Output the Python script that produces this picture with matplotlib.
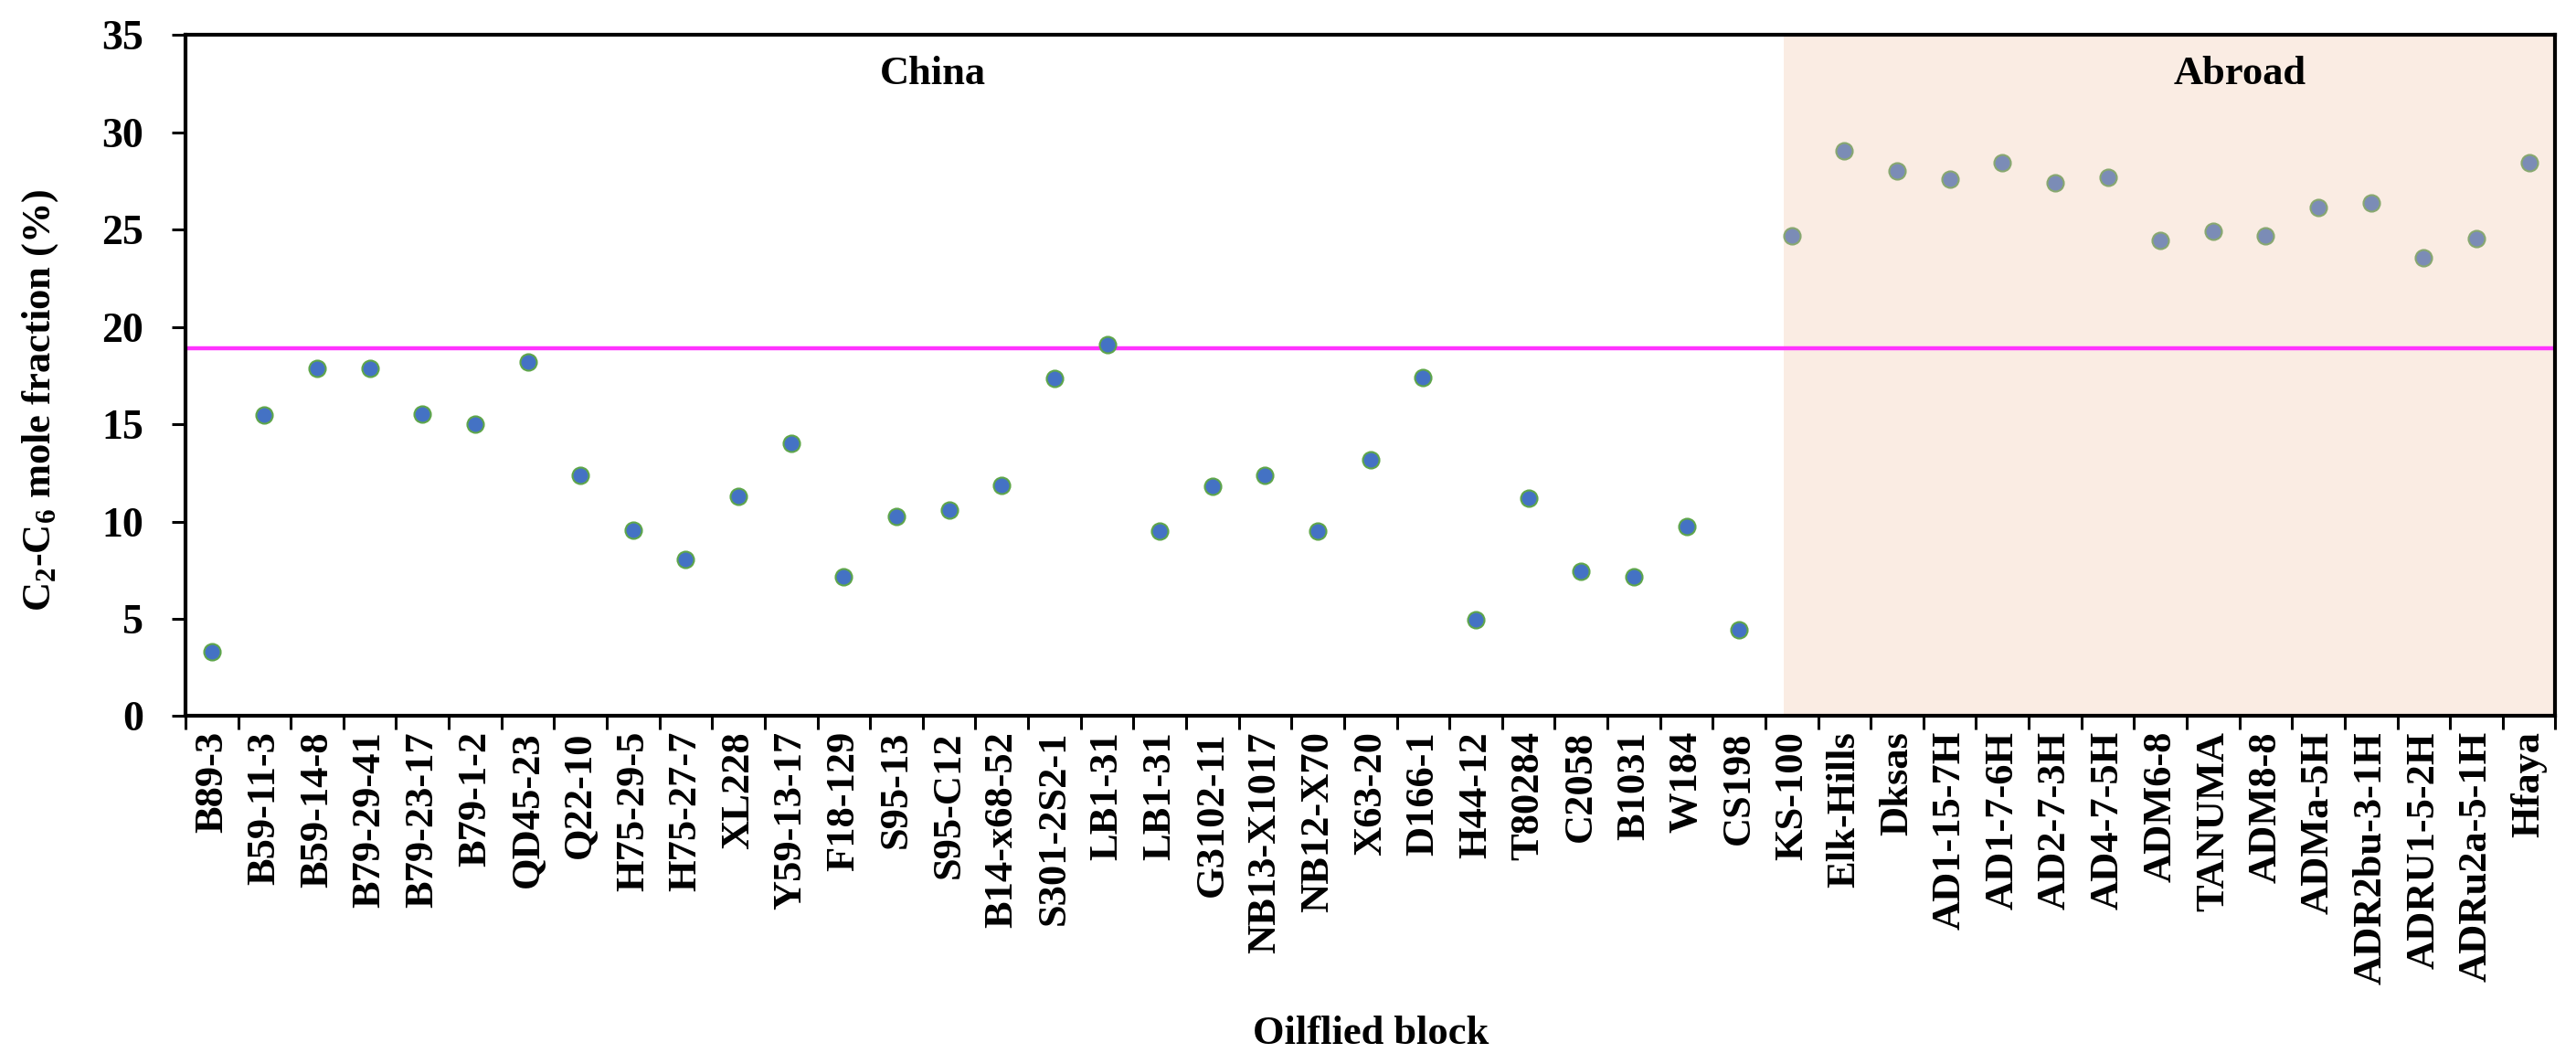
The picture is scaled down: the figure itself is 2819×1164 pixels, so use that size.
import matplotlib
matplotlib.use("Agg")
import matplotlib.pyplot as plt
import numpy as np

plt.rcParams['font.family'] = ['Liberation Serif', 'DejaVu Serif']
plt.rcParams['font.weight'] = 'bold'
plt.rcParams['mathtext.fontset'] = 'custom'
plt.rcParams['mathtext.rm'] = 'Liberation Serif:bold'
plt.rcParams['mathtext.it'] = 'Liberation Serif:bold'
plt.rcParams['mathtext.bf'] = 'Liberation Serif:bold'

# oilfield blocks and C2-C6 mole fraction (%)
china_blocks = ['B89-3', 'B59-11-3', 'B59-14-8', 'B79-29-41', 'B79-23-17', 'B79-1-2',
                'QD45-23', 'Q22-10', 'H75-29-5', 'H75-27-7', 'XL228', 'Y59-13-17',
                'F18-129', 'S95-13', 'S95-C12', 'B14-x68-52', 'S301-2S2-1', 'LB1-31',
                'LB1-31', 'G3102-11', 'NB13-X1017', 'NB12-X70', 'X63-20', 'D166-1',
                'H44-12', 'T80284', 'C2058', 'B1031', 'W184', 'CS198']
china_values = [3.32, 15.46, 17.87, 17.87, 15.53, 15.02,
                18.19, 12.39, 9.56, 8.04, 11.28, 14.01,
                7.18, 10.25, 10.59, 11.87, 17.35, 19.10,
                9.49, 11.80, 12.39, 9.49, 13.17, 17.42,
                4.94, 11.18, 7.42, 7.18, 9.73, 4.42]

abroad_blocks = ['KS-100', 'Elk-Hills', 'Dksas', 'AD1-15-7H', 'AD1-7-6H', 'AD2-7-3H',
                 'AD4-7-5H', 'ADM6-8', 'TANUMA', 'ADM8-8', 'ADMa-5H', 'ADR2bu-3-1H',
                 'ADRU1-5-2H', 'ADRu2a-5-1H', 'Hfaya']
abroad_values = [24.67, 29.05, 28.02, 27.60, 28.43, 27.43,
                 27.67, 24.43, 24.94, 24.67, 26.15, 26.39,
                 23.57, 24.53, 28.43]

threshold = 18.9

labels = china_blocks + abroad_blocks
n_china = len(china_blocks)
n_all = len(labels)
x_china = np.arange(n_china)
x_abroad = np.arange(n_china, n_all)

fig = plt.figure(figsize=(28.19, 11.64), dpi=100)
ax = fig.add_axes([0.072, 0.327, 0.920, 0.640])

ax.axvspan(n_china - 0.15, n_all - 0.5, color='#FAECE3', zorder=0, lw=0)
ax.axhline(threshold, color='#FF33FF', lw=3.2, zorder=2)

ax.plot(x_china, china_values, 'o', ms=13, mfc='#4472C4', mec='#5FA64A',
        mew=1.5, zorder=3)
ax.plot(x_abroad, abroad_values, 'o', ms=13, mfc='#7B8CB6', mec='#88A870',
        mew=1.5, zorder=3)

ax.text(13.7, 33.0, 'China', ha='center', va='center', fontsize=32, fontweight='bold')
ax.text(38.5, 33.0, 'Abroad', ha='center', va='center', fontsize=32, fontweight='bold')

ax.set_xlim(-0.5, n_all - 0.5)
ax.set_ylim(0, 35)
ax.set_yticks(np.arange(0, 36, 5))

# ticks at the boundaries, labels at the centres
ax.set_xticks(np.arange(-0.5, n_all, 1.0))
ax.set_xticklabels([])
ax.set_xticks(np.arange(n_all), minor=True)
ax.set_xticklabels(labels, minor=True, rotation=90, fontsize=32, fontweight='bold')
ax.tick_params(axis='x', which='minor', length=0, pad=12)
ax.tick_params(axis='x', which='major', direction='out', length=11, width=2.2)
ax.tick_params(axis='y', direction='out', length=11, width=2.2, labelsize=33, pad=22)
for t in ax.get_yticklabels():
    t.set_fontweight('bold')

for s in ax.spines.values():
    s.set_linewidth(3)
    s.set_color('black')

ax.set_ylabel(r'C$_2$-C$_6$ mole fraction (%)', fontsize=32, fontweight='bold')
ax.yaxis.set_label_coords(-0.053, 0.464)
ax.set_xlabel('Oilflied block', fontsize=32, fontweight='bold')
ax.xaxis.set_label_coords(0.5, -0.44)

fig.savefig('out.png', dpi=100)
